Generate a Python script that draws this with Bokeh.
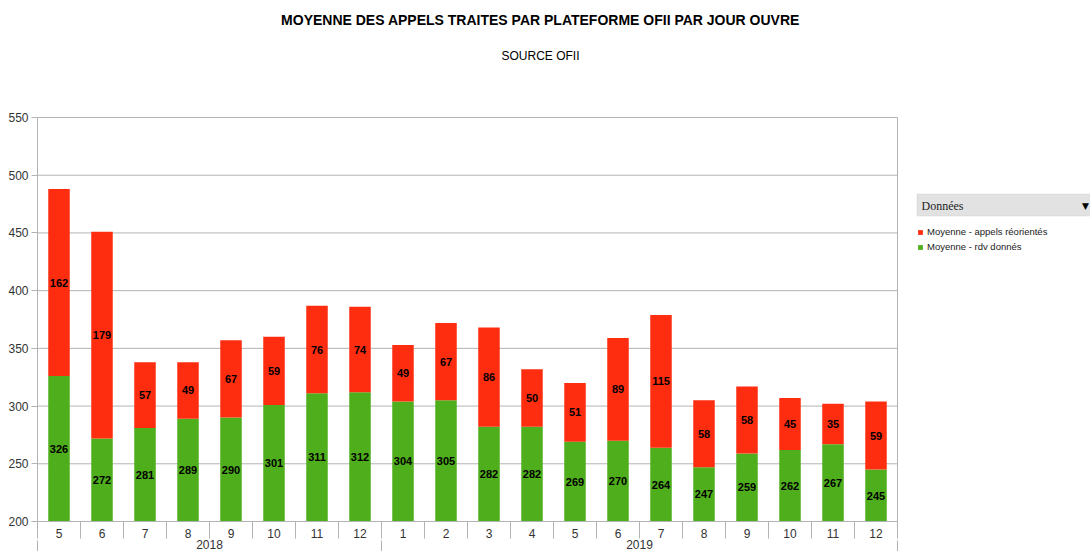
from bokeh.plotting import figure
from bokeh.models import (ColumnDataSource, Range1d, FixedTicker, Label, Legend, LegendItem,
                          BoxAnnotation, LinearAxis)
from bokeh.embed import file_html
from bokeh.resources import INLINE
from bokeh.core.properties import value

months = ["5", "6", "7", "8", "9", "10", "11", "12",
          "1", "2", "3", "4", "5", "6", "7", "8", "9", "10", "11", "12"]
years = ["2018", "2019"]
year_counts = [8, 12]
rdv_donnes = [326, 272, 281, 289, 290, 301, 311, 312,
              304, 305, 282, 282, 269, 270, 264, 247, 259, 262, 267, 245]
appels_reorientes = [162, 179, 57, 49, 67, 59, 76, 74,
                     49, 67, 86, 50, 51, 89, 115, 58, 58, 45, 35, 59]
series_names = ["Moyenne - appels réorientés", "Moyenne - rdv donnés"]
y_ticks = [200, 250, 300, 350, 400, 450, 500, 550]

RED = "#ff2d10"
GREEN = "#4fae1c"
GRID = "#b3b3b3"
FONT = "Liberation Sans"

W, H = 1090, 551
FL, FB = 37, 521            # frame left / bottom in page pixels
PX_PER_X = 43.0
PX_PER_Y = 404.0 / 350.0

n = len(months)
xs = list(range(1, n + 1))
ymin, ymax = y_ticks[0], y_ticks[-1]
x_lo, x_hi = 0.5, n + 0.5

def px_x(px):
    return x_lo + (px - FL) / PX_PER_X

def px_y(py):
    return ymin + (FB - py) / PX_PER_Y

src = ColumnDataSource(dict(
    x=xs, rdv=rdv_donnes, app=appels_reorientes,
    g_lab=[str(v) for v in rdv_donnes], r_lab=[str(v) for v in appels_reorientes],
    g_y=[(ymin + g) / 2 for g in rdv_donnes],
    r_y=[g + r / 2 for g, r in zip(rdv_donnes, appels_reorientes)],
))

p = figure(width=W, height=H, output_backend="svg", toolbar_location=None,
           x_range=Range1d(x_lo, px_x(W)), y_range=Range1d(ymin, px_y(0)),
           min_border_left=FL, min_border_right=0, min_border_top=0, min_border_bottom=H - FB,
           x_axis_type=None)
p.outline_line_color = None
p.background_fill_color = "white"
p.border_fill_color = "white"
p.xgrid.grid_line_color = None
p.ygrid.grid_line_color = None

# grid lines and right border limited to the plotting area
p.segment(x0=[x_lo] * len(y_ticks), x1=[x_hi] * len(y_ticks), y0=y_ticks, y1=y_ticks,
          line_color=GRID, line_width=1)
p.segment(x0=[x_hi], x1=[x_hi], y0=[ymin], y1=[ymax], line_color=GRID, line_width=1)

rs = p.vbar_stack(["rdv", "app"], x="x", width=0.5, source=src,
                  color=[GREEN, RED], line_color=None)

p.text(x="x", y="g_y", text="g_lab", source=src, text_align="center", text_baseline="middle",
       text_font=value(FONT), text_font_style="bold", text_font_size="11px", text_color="black")
p.text(x="x", y="r_y", text="r_lab", source=src, text_align="center", text_baseline="middle",
       text_font=value(FONT), text_font_style="bold", text_font_size="11px", text_color="black")

# y axis
p.yaxis.ticker = FixedTicker(ticks=y_ticks)
p.yaxis.bounds = (ymin, ymax)
p.yaxis.axis_line_color = GRID
p.yaxis.major_tick_line_color = GRID
p.yaxis.major_tick_out = 6
p.yaxis.major_tick_in = 0
p.yaxis.minor_tick_line_color = None
p.yaxis.major_label_text_font = FONT
p.yaxis.major_label_text_font_size = "12px"
p.yaxis.major_label_text_color = "#333333"
p.yaxis.major_label_standoff = 3

# month axis
xa = LinearAxis(ticker=FixedTicker(ticks=xs, minor_ticks=[i + 0.5 for i in range(0, n + 1)]),
                bounds=(x_lo, x_hi))
xa.major_label_overrides = {x: m for x, m in zip(xs, months)}
xa.axis_line_color = GRID
xa.major_tick_line_color = None
xa.major_tick_out = 0
xa.major_tick_in = 0
xa.minor_tick_line_color = GRID
xa.minor_tick_out = 17
xa.minor_tick_in = 0
xa.major_label_text_font = FONT
xa.major_label_text_font_size = "12px"
xa.major_label_text_color = "#333333"
xa.major_label_standoff = -10
p.add_layout(xa, "below")

# year axis
centers, bounds_ = [], [x_lo]
start = x_lo
for cnt in year_counts:
    centers.append(start + cnt / 2)
    start += cnt
    bounds_.append(start)
ya = LinearAxis(ticker=FixedTicker(ticks=centers, minor_ticks=bounds_), bounds=(x_lo, x_hi))
ya.major_label_overrides = {c: yr for c, yr in zip(centers, years)}
ya.axis_line_color = None
ya.major_tick_line_color = None
ya.major_tick_out = 0
ya.major_tick_in = 0
ya.minor_tick_line_color = GRID
ya.minor_tick_out = 12
ya.minor_tick_in = 0
ya.major_label_text_font = FONT
ya.major_label_text_font_size = "12px"
ya.major_label_text_color = "#333333"
ya.major_label_standoff = -13
p.add_layout(ya, "below")

# titles
p.add_layout(Label(x=px_x(540), y=px_y(19), text="MOYENNE DES APPELS TRAITES PAR PLATEFORME OFII PAR JOUR OUVRE",
                   text_align="center", text_baseline="middle", text_font=FONT,
                   text_font_style="bold", text_font_size="14px", text_color="black"))
p.add_layout(Label(x=px_x(540), y=px_y(55), text="SOURCE OFII", text_align="center",
                   text_baseline="middle", text_font=FONT, text_font_size="12px", text_color="black"))

# "Données" box
p.add_layout(BoxAnnotation(left=px_x(916.5), right=px_x(1100), top=px_y(193.5), bottom=px_y(215.5),
                           fill_color="#e2e2e2", fill_alpha=1.0, line_color="#c4c4c4", line_width=1))
p.add_layout(Label(x=px_x(921), y=px_y(205), text="Données", text_align="left", text_baseline="middle",
                   text_font="Liberation Serif", text_font_size="12px", text_color="#222222"))
p.add_layout(Label(x=px_x(1085), y=px_y(205), text="▼", text_align="center", text_baseline="middle",
                   text_font="DejaVu Sans", text_font_size="9px", text_color="black"))

legend = Legend(items=[LegendItem(label=series_names[0], renderers=[rs[1]]),
                       LegendItem(label=series_names[1], renderers=[rs[0]])],
                location=(917 - FL, FB - 252), padding=0, margin=0, spacing=4,
                label_height=10, glyph_height=6, glyph_width=6, label_standoff=4,
                label_text_font=FONT, label_text_font_size="9.5px", label_text_color="#222222",
                border_line_color=None, background_fill_alpha=0)
p.add_layout(legend)

open("out.html", "w").write(file_html(p, INLINE))
